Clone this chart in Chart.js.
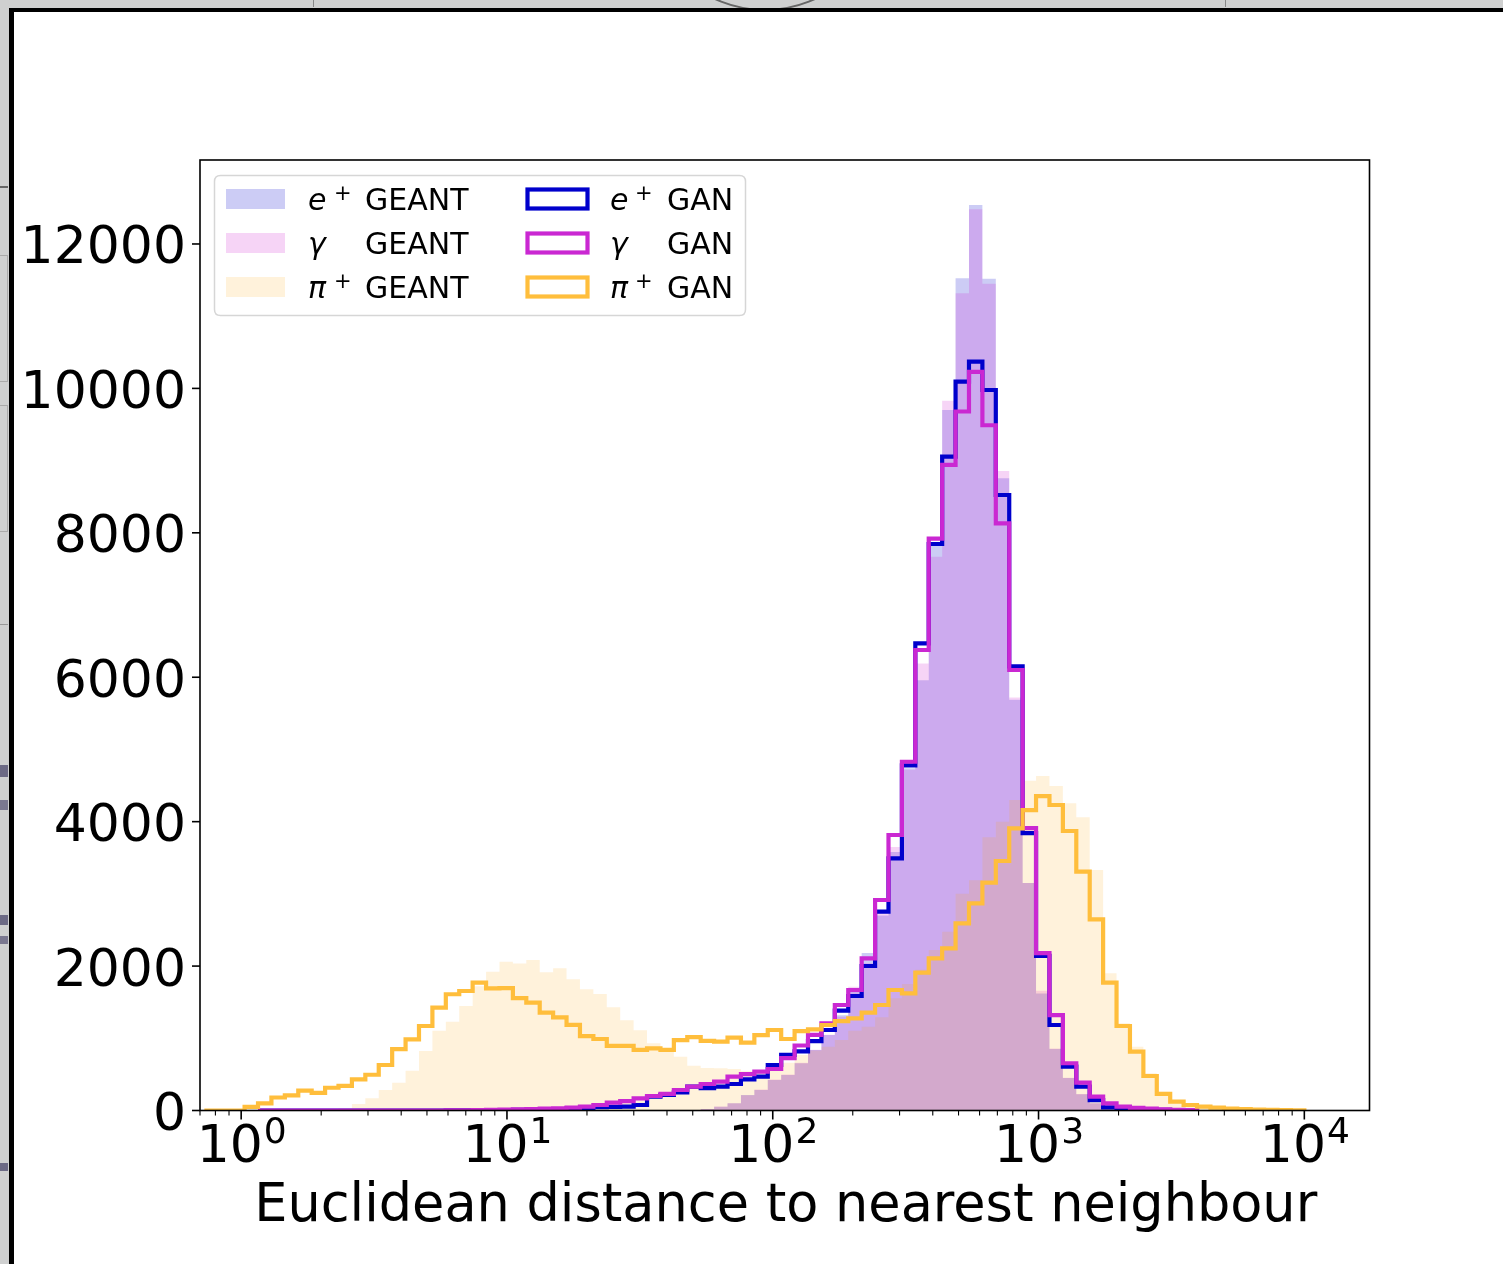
<!DOCTYPE html>
<html><head><meta charset="utf-8">
<script src="https://cdn.jsdelivr.net/npm/chart.js@4.4.1/dist/chart.umd.min.js"></script>
<style>
html,body{margin:0;padding:0;width:1503px;height:1264px;overflow:hidden;background:#cfd0d0;}
.mk{position:absolute;}
#frame{position:absolute;left:9px;top:8px;right:0;bottom:0;background:#fff;border-left:5px solid #000;border-top:4px solid #000;}
#wrap{position:absolute;left:0;top:0;width:1503px;height:1264px;}
</style></head><body>
<div class="mk" style="left:313px;top:0;width:1px;height:7px;background:#888"></div>
<div class="mk" style="left:1225px;top:0;width:1px;height:7px;background:#888"></div>
<div class="mk" style="left:645px;top:-229px;width:236px;height:236px;border:2px solid #666;border-radius:50%"></div>
<div class="mk" style="left:0;top:186px;width:8px;height:2px;background:#666"></div>
<div class="mk" style="left:0;top:255px;width:7px;height:125px;border:1px solid #aaa;border-left:none"></div>
<div class="mk" style="left:0;top:405px;width:7px;height:125px;border:1px solid #aaa;border-left:none"></div>
<div class="mk" style="left:0;top:624px;width:8px;height:1px;background:#999"></div>
<div class="mk" style="left:0;top:765px;width:8px;height:12px;background:#6c6a85"></div>
<div class="mk" style="left:0;top:800px;width:8px;height:10px;background:#7a7890"></div>
<div class="mk" style="left:0;top:915px;width:8px;height:10px;background:#6c6a85"></div>
<div class="mk" style="left:0;top:936px;width:8px;height:8px;background:#7a7890"></div>
<div class="mk" style="left:0;top:1163px;width:8px;height:8px;background:#6c6a85"></div>
<div id="frame"></div>
<div id="wrap"><canvas id="c" width="1503" height="1264"></canvas></div>
<script>
// ---- binning (log10 of first bin edge, width of a bin in decades, number of bins) ----
const binLogStart = -0.1385;
const binLogStep = 0.05047;
const nBins = 82;
// ---- axes ----
const xLogMin = -0.1465, xLogMax = 4.2452;
const yMax = 13163;
const yTicks = [0, 2000, 4000, 6000, 8000, 10000, 12000];
const xMajorExponents = [0, 1, 2, 3, 4];
const xLabel = 'Euclidean distance to nearest neighbour';

// ---- series (counts per bin) ----
const ePosGeant = [
  0,0,0,0,0,0,0,0,0,0,
  0,0,0,0,0,0,0,0,0,0,
  0,0,0,0,0,0,0,0,0,0,
  0,0,0,0,0,3,8,20,53,100,
  215,284,422,492,654,838,1046,1320,1646,2180,
  2700,3580,4740,5960,7830,9700,11525,12540,11520,8755,
  5690,3150,1620,850,450,225,100,50,25,12,
  6,3,0,0,0,0,0,0,0,0,
  0,0];
const gammaGeant = [
  0,0,0,0,0,0,0,0,0,0,
  0,0,0,0,0,0,0,0,0,0,
  0,0,0,0,0,0,0,0,0,0,
  0,0,0,0,0,3,8,20,55,100,
  210,290,430,500,660,840,1050,1300,1715,2040,
  2750,3650,4720,6190,7670,9830,11317,12480,11450,8856,
  5720,3150,1660,860,455,230,100,50,25,12,
  6,3,0,0,0,0,0,0,0,0,
  0,0];
const piPosGeant = [
  0,0,0,0,0,0,0,0,0,10,
  30,90,169,284,385,551,824,1105,1230,1447,
  1720,1920,2060,2035,2085,1915,1970,1817,1678,1613,
  1430,1250,1110,930,814,745,620,590,585,575,
  545,560,650,660,770,830,884,976,1105,1160,
  1290,1554,1752,1950,2222,2476,3000,3190,3783,4000,
  4300,4567,4632,4494,4254,4060,3330,1900,1208,884,
  515,260,145,90,60,40,25,15,10,5,
  3,2];
const ePosGan = [
  0,0,0,0,0,0,0,0,0,0,
  0,0,0,0,0,0,0,0,1,2,
  3,5,6,8,10,15,20,28,35,45,
  50,53,76,192,215,250,330,310,330,367,
  432,468,630,769,820,962,1115,1382,1586,2001,
  2753,3492,4780,6470,7845,9054,10093,10370,9978,8524,
  6150,3840,2140,1184,607,330,145,44,30,20,
  12,8,5,3,0,0,0,0,0,0,
  0,0];
const gammaGan = [
  0,0,0,0,0,0,0,0,0,0,
  0,0,0,0,0,0,0,0,2,3,
  5,8,12,15,20,25,30,40,53,76,
  108,131,169,201,229,284,330,367,399,468,
  505,537,575,725,900,1046,1208,1461,1669,2108,
  2915,3815,4830,6377,7920,8940,9680,10230,9490,8130,
  6100,3910,2180,1322,654,385,191,100,53,35,
  25,15,10,5,0,0,0,0,0,0,
  0,0];
const piPosGan = [
  0,0,0,50,100,180,210,275,245,315,
  340,430,495,630,850,985,1170,1425,1610,1655,
  1770,1690,1695,1555,1495,1355,1290,1185,1030,990,
  895,895,840,860,840,975,1015,965,955,1010,
  940,1045,1115,990,1100,1124,1184,1239,1277,1355,
  1461,1669,1623,1908,2108,2246,2592,2869,3155,3455,
  3908,4161,4355,4231,3871,3307,2648,1770,1170,814,
  478,229,122,76,53,39,25,18,12,8,
  5,3];
// first / last bin index of each step outline
const ganRange = { ePos: [4, 73], gamma: [4, 73], piPos: [0, 81] };

function edge(i) { return Math.pow(10, binLogStart + i * binLogStep); }
function stepPoints(values, first, last) {
  const pts = [{x: edge(first), y: 0}];
  for (let i = first; i <= last; i++) pts.push({x: edge(i), y: values[i]});
  pts.push({x: edge(last + 1), y: 0});
  return pts;
}

const FONT = '"DejaVu Sans"';
const C_E = '#0000CC', C_G = '#CA28D2', C_P = '#FFBE3C';
const F_E = 'rgba(0,0,205,0.2)', F_G = 'rgba(204,0,204,0.17)', F_P = 'rgba(255,165,0,0.14)';

function fillSet(vals, color, order) {
  return {data: stepPoints(vals, 0, nBins - 1), stepped: true, fill: 'origin', backgroundColor: color,
    borderColor: 'rgba(0,0,0,0)', borderWidth: 0, pointRadius: 0, order: order, clip: 0};
}
function lineSet(vals, rng, color, order) {
  return {data: stepPoints(vals, rng[0], rng[1]), stepped: true, fill: false, borderColor: color,
    borderWidth: 4.2, borderJoinStyle: 'miter', borderCapStyle: 'butt', pointRadius: 0, order: order, clip: 0};
}

const overlay = {
  id: 'overlay',
  afterDraw(chart) {
    const ctx = chart.ctx, ca = chart.chartArea, xs = chart.scales.x, ys = chart.scales.y;
    ctx.save();
    ctx.strokeStyle = '#000'; ctx.lineWidth = 1.6;
    ctx.strokeRect(ca.left, ca.top, ca.right - ca.left, ca.bottom - ca.top);
    // y ticks + labels
    ctx.fillStyle = '#000'; ctx.font = '52px ' + FONT; ctx.textAlign = 'right'; ctx.textBaseline = 'alphabetic';
    yTicks.forEach(v => {
      const py = ys.getPixelForValue(v);
      ctx.lineWidth = 1.6;
      ctx.beginPath(); ctx.moveTo(ca.left, py); ctx.lineTo(ca.left - 8, py); ctx.stroke();
      ctx.fillText(String(v), ca.left - 14, py + 19.5);
    });
    // x ticks
    for (let e = -1; e <= 4; e++) {
      for (let m = 1; m <= 9; m++) {
        const v = m * Math.pow(10, e);
        if (v < xs.min || v > xs.max) continue;
        const px = xs.getPixelForValue(v);
        const major = (m === 1);
        ctx.lineWidth = major ? 1.6 : 1.1;
        ctx.beginPath(); ctx.moveTo(px, ca.bottom); ctx.lineTo(px, ca.bottom + (major ? 9 : 5)); ctx.stroke();
      }
    }
    // x tick labels 10^n
    ctx.textAlign = 'left';
    xMajorExponents.forEach(n => {
      const px = xs.getPixelForValue(Math.pow(10, n));
      ctx.font = '52px ' + FONT; const wb = ctx.measureText('10').width;
      ctx.font = '36px ' + FONT; const ws = ctx.measureText(String(n)).width;
      const x0 = px - (wb + ws) / 2;
      ctx.font = '52px ' + FONT; ctx.fillText('10', x0, 1162);
      ctx.font = '36px ' + FONT; ctx.fillText(String(n), x0 + wb + 1, 1143);
    });
    // x axis title
    ctx.font = '52.5px ' + FONT; ctx.textAlign = 'center';
    ctx.fillText(xLabel, (ca.left + ca.right) / 2 + 1, 1221);
    // legend
    ctx.textAlign = 'left';
    const bx = 214.5, by = 175.5, bw = 531, bh = 140, r = 6;
    ctx.beginPath();
    ctx.moveTo(bx + r, by); ctx.lineTo(bx + bw - r, by); ctx.quadraticCurveTo(bx + bw, by, bx + bw, by + r);
    ctx.lineTo(bx + bw, by + bh - r); ctx.quadraticCurveTo(bx + bw, by + bh, bx + bw - r, by + bh);
    ctx.lineTo(bx + r, by + bh); ctx.quadraticCurveTo(bx, by + bh, bx, by + bh - r);
    ctx.lineTo(bx, by + r); ctx.quadraticCurveTo(bx, by, bx + r, by); ctx.closePath();
    ctx.fillStyle = 'rgba(255,255,255,0.8)'; ctx.fill();
    ctx.strokeStyle = '#d6d6d6'; ctx.lineWidth = 1.5; ctx.stroke();
    const rows = [199, 243, 287];
    const sym = [['e', '+'], ['\u03b3', ''], ['\u03c0', '+']];
    const fills = [F_E, F_G, F_P], lines = [C_E, C_G, C_P];
    rows.forEach((cy, k) => {
      ctx.fillStyle = fills[k]; ctx.fillRect(226, cy - 10, 59, 20);
      ctx.strokeStyle = lines[k]; ctx.lineWidth = 4.2; ctx.strokeRect(527.5, cy - 9.5, 60, 19);
      [[308, 334, 365, 'GEANT'], [610, 635, 667, 'GAN']].forEach(c => {
        ctx.fillStyle = '#000';
        ctx.font = 'italic 30px ' + FONT; ctx.fillText(sym[k][0], c[0], cy + 10.5);
        if (sym[k][1]) { ctx.font = '21px ' + FONT; ctx.fillText(sym[k][1], c[1], cy + 1); }
        ctx.font = '30px ' + FONT; ctx.fillText(c[3], c[2], cy + 10.5);
      });
    });
    ctx.restore();
  }
};

new Chart(document.getElementById('c'), {
  type: 'line',
  data: {
    datasets: [
      fillSet(ePosGeant, F_E, 6),
      fillSet(gammaGeant, F_G, 5),
      fillSet(piPosGeant, F_P, 4),
      lineSet(ePosGan, ganRange.ePos, C_E, 3),
      lineSet(gammaGan, ganRange.gamma, C_G, 2),
      lineSet(piPosGan, ganRange.piPos, C_P, 1)
    ]
  },
  options: {
    responsive: false, animation: false,
    layout: {padding: {left: 0, right: 133.5, top: 160, bottom: 0}},
    plugins: {legend: {display: false}, tooltip: {enabled: false}},
    scales: {
      x: {
        type: 'logarithmic', min: Math.pow(10, xLogMin), max: Math.pow(10, xLogMax),
        afterFit: s => { s.height = 1264 - 1110.5; },
        ticks: {display: false}, grid: {display: false}, border: {display: false}
      },
      y: {
        type: 'linear', min: 0, max: yMax,
        afterBuildTicks: s => { s.ticks = yTicks.map(v => ({value: v})); },
        afterFit: s => { s.width = 200; },
        grid: {display: false}, border: {display: false},
        ticks: {display: false}
      }
    }
  },
  plugins: [overlay]
});
</script>
</body></html>
